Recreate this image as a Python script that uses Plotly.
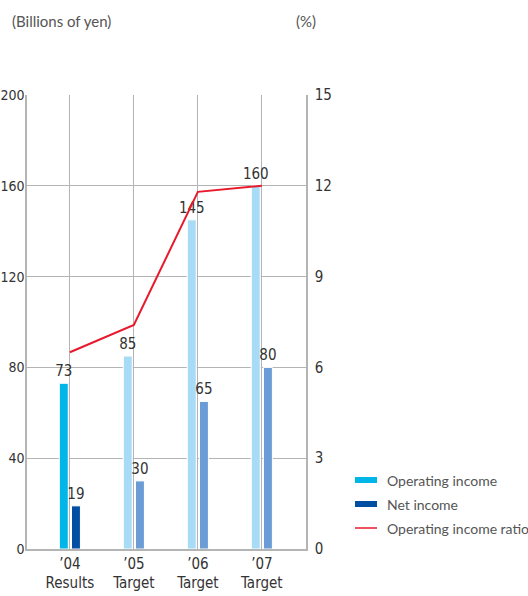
import plotly.graph_objects as go

# Fiscal years and their status labels
years = ["’04", "’05", "’06", "’07"]
status = ["Results", "Target", "Target", "Target"]

# Billions of yen
operating_income = [73, 85, 145, 160]
net_income = [19, 30, 65, 80]
# Percent
operating_ratio = [6.5, 7.4, 11.8, 12.0]

series_names = ["Operating income", "Net income", "Operating income ratio"]
op_colors = ["#00b5e8", "#a8dcf6", "#a8dcf6", "#a8dcf6"]
net_colors = ["#004fa2", "#6a9dd6", "#6a9dd6", "#6a9dd6"]
ratio_color = "#e8192c"

num_font = dict(family="DejaVu Sans Condensed", size=15, color="#333333")
left_tick_font = dict(family="DejaVu Sans Condensed", size=14, color="#333333")
label_font = dict(family="Lato, Open Sans, sans-serif", size=14, color="#555555")
unit_font = dict(family="Lato, Open Sans, sans-serif", size=15, color="#555555")

x = list(range(len(years)))
tick_text = [f"{y}<br>{s}" for y, s in zip(years, status)]

fig = go.Figure()
fig.add_trace(go.Bar(
    x=x, y=operating_income, name=series_names[0],
    marker=dict(color=op_colors, line=dict(color="white", width=1)),
    width=0.14, offset=-0.165,
    text=[str(v) for v in operating_income], textposition="outside",
    textfont=num_font, cliponaxis=False, constraintext="none",
))
fig.add_trace(go.Bar(
    x=x, y=net_income, name=series_names[1],
    marker=dict(color=net_colors, line=dict(color="white", width=1)),
    width=0.14, offset=0.025,
    text=[str(v) for v in net_income], textposition="outside",
    textfont=num_font, cliponaxis=False, constraintext="none",
))
fig.add_trace(go.Scatter(
    x=x, y=operating_ratio, name=series_names[2], yaxis="y2",
    mode="lines", line=dict(color=ratio_color, width=2),
))

L, R, T, B, W, H = 27, 222, 95, 47, 528, 596
fig.update_layout(
    width=W, height=H,
    margin=dict(l=L, r=R, t=T, b=B, autoexpand=False),
    paper_bgcolor="white", plot_bgcolor="white",
    barmode="overlay",
    showlegend=False,
    xaxis=dict(
        range=[-0.67, 3.69], tickmode="array", tickvals=x, ticktext=tick_text,
        showgrid=True, gridcolor="#b4b4b4", gridwidth=1,
        showline=True, linecolor="#b4b4b4", linewidth=1.5,
        ticks="", tickfont=num_font, zeroline=False, automargin=False,
    ),
    yaxis=dict(
        range=[0, 200], dtick=40, tick0=0,
        showgrid=True, gridcolor="#b4b4b4", gridwidth=1,
        showline=True, linecolor="#b4b4b4", linewidth=1.5,
        ticks="", tickfont=left_tick_font, zeroline=False, ticklabelstandoff=-2,
        automargin=False,
    ),
    yaxis2=dict(
        range=[0, 15], dtick=3, tick0=0, overlaying="y", side="right",
        showgrid=False, showline=True, linecolor="#b4b4b4", linewidth=1.5,
        ticks="", tickfont=num_font, zeroline=False, ticklabelstandoff=4,
        automargin=False,
    ),
)

# Helpers for placing decorations in pixel terms outside the plot area
plot_w = W - L - R
plot_h = H - T - B
def px(xp):
    return (xp - L) / plot_w
def py(yp):
    return (H - B - yp) / plot_h

annotations = [
    dict(text="(Billions of yen)", x=px(10), y=py(21), xanchor="left", yanchor="middle",
         xref="paper", yref="paper", showarrow=False, font=unit_font),
    dict(text="(%)", x=px(306), y=py(21), xanchor="center", yanchor="middle",
         xref="paper", yref="paper", showarrow=False, font=unit_font),
]
shapes = []

# Legend: two bar swatches and one line sample
legend_rows = [480, 504, 528]
swatch_colors = [op_colors[0], net_colors[0], ratio_color]
for i, (name, color, yc) in enumerate(zip(series_names, swatch_colors, legend_rows)):
    if i < 2:
        shapes.append(dict(type="rect", xref="paper", yref="paper",
                           x0=px(355), x1=px(377), y0=py(yc - 3), y1=py(yc + 3),
                           fillcolor=color, line=dict(width=0)))
    else:
        shapes.append(dict(type="line", xref="paper", yref="paper",
                           x0=px(355), x1=px(377), y0=py(yc), y1=py(yc),
                           line=dict(color=color, width=1.5)))
    annotations.append(dict(text=name, x=px(385), y=py(yc), xanchor="left", yanchor="middle",
                            xref="paper", yref="paper", showarrow=False, font=label_font))

fig.update_layout(annotations=annotations, shapes=shapes)

fig.write_html("out.html")
